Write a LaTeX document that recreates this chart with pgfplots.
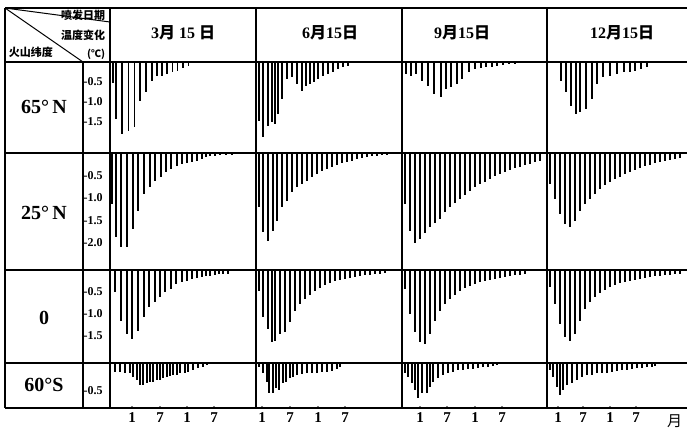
\documentclass[border=0pt]{standalone}
\usepackage{fontspec}
\setmainfont{Liberation Serif}
\newfontfamily\cjk{Noto Sans CJK SC}
\usepackage{pgfplots}
\pgfplotsset{compat=1.18}

\pgfplotsset{
  cell/.style={scale only axis, anchor=north west, axis lines=none,
    xmin=0, ymax=0, clip=false},
  bottomcell/.style={scale only axis, anchor=north west,
    axis x line*=bottom, axis y line=none, xmin=0, ymax=0, clip=false,
    x axis line style={line width=1.3pt},
    xtick align=inside, major tick length=2pt,
    xtick style={line width=1.3pt},
    xticklabel style={font=\bfseries\fontsize{15}{15}\selectfont, yshift=-1pt}},
  scalecol/.style={scale only axis, anchor=north west, width=27pt,
    xmin=0, xmax=1, ymax=0, axis x line=none, axis y line*=left,
    y axis line style={draw=none}, major tick length=0pt,
    yticklabel style={anchor=west, inner sep=0pt, xshift=0.5pt,
      font=\bfseries\fontsize{12}{12}\selectfont},
    /pgf/number format/.cd, fixed, fixed zerofill, precision=1,
    assume math mode=true},
  bars/.style={ycomb, black, line width=1.6pt, mark=none},
}

\begin{document}
\begin{tikzpicture}
\useasboundingbox (0pt,0pt) rectangle (687pt,-431pt);

% ---- row 1: 65N (top 62, h 91)
\begin{axis}[scalecol, at={(83pt,-62pt)}, height=91pt, ymin=-2.275, ytick={-0.5,-1,-1.5}]
\addplot[draw=none] coordinates {(0,0)};
\end{axis}
\begin{axis}[cell, at={(110pt,-62pt)}, width=146pt, height=91pt, xmax=146, ymin=-2.275]
\addplot[bars] coordinates {(2.7,-0.52) (6,-1.43) (11.7,-1.8) (18.3,-1.73) (24.3,-1.63) (30,-0.98) (35.7,-0.75) (41.7,-0.48) (46.7,-0.35) (51.7,-0.35) (56.7,-0.3) (62.3,-0.25) (67.3,-0.22) (72.7,-0.15) (78.3,-0.1)};
\end{axis}
\begin{axis}[cell, at={(256pt,-62pt)}, width=146pt, height=91pt, xmax=146, ymin=-2.275]
\addplot[bars] coordinates {(3,-1.48) (7,-1.88) (12,-1.6) (16,-1.5) (19,-1.55) (22,-1.3) (26,-0.93) (31,-0.43) (36,-0.38) (41,-0.55) (46,-0.73) (50,-0.6) (54,-0.55) (58,-0.5) (62,-0.43) (67,-0.35) (72,-0.3) (77,-0.25) (82,-0.18) (87,-0.13) (92,-0.1)};
\end{axis}
\begin{axis}[cell, at={(402pt,-62pt)}, width=145pt, height=91pt, xmax=145, ymin=-2.275]
\addplot[bars] coordinates {(4,-0.3) (9,-0.35) (14,-0.3) (20,-0.48) (26,-0.6) (32,-0.8) (39,-0.88) (44,-0.68) (49,-0.63) (55,-0.55) (60,-0.43) (67,-0.25) (73,-0.18) (79,-0.15) (84,-0.13) (90,-0.12) (95,-0.1) (101,-0.08) (107,-0.06) (113,-0.05)};
\end{axis}
\begin{axis}[cell, at={(547pt,-62pt)}, width=140pt, height=91pt, xmax=140, ymin=-2.275]
\addplot[bars] coordinates {(14,-0.48) (19,-0.75) (24,-1.1) (29,-1.3) (33,-1.25) (39,-1.18) (45,-0.93) (50,-0.55) (56,-0.38) (63,-0.35) (70,-0.3) (77,-0.25) (83,-0.25) (88,-0.22) (94,-0.18) (100,-0.13)};
\end{axis}

% ---- row 2: 25N (top 153, h 117)
\begin{axis}[scalecol, at={(83pt,-153pt)}, height=117pt, ymin=-2.6, ytick={-0.5,-1,-1.5,-2}]
\addplot[draw=none] coordinates {(0,0)};
\end{axis}
\begin{axis}[cell, at={(110pt,-153pt)}, width=146pt, height=117pt, xmax=146, ymin=-2.6]
\addplot[bars] coordinates {(2,-1.13) (6,-1.87) (11,-2.09) (17,-2.09) (23,-1.69) (28,-1.29) (34,-0.91) (40,-0.76) (45,-0.62) (51,-0.53) (56,-0.42) (61,-0.36) (67,-0.29) (72,-0.24) (77,-0.22) (82,-0.2) (87,-0.18) (92,-0.13) (96,-0.09) (100,-0.07) (105,-0.07) (110,-0.05) (116,-0.05) (122,-0.04)};
\end{axis}
\begin{axis}[cell, at={(256pt,-153pt)}, width=146pt, height=117pt, xmax=146, ymin=-2.6]
\addplot[bars] coordinates {(3,-1.2) (7,-1.76) (12,-1.96) (17,-1.73) (21,-1.51) (26,-1.2) (31,-1.07) (36,-0.87) (41,-0.76) (46,-0.69) (51,-0.62) (56,-0.53) (61,-0.47) (66,-0.4) (71,-0.36) (76,-0.31) (81,-0.27) (86,-0.22) (91,-0.2) (96,-0.18) (101,-0.13) (106,-0.11) (111,-0.09) (116,-0.07) (121,-0.07) (126,-0.04) (131,-0.04)};
\end{axis}
\begin{axis}[cell, at={(402pt,-153pt)}, width=145pt, height=117pt, xmax=145, ymin=-2.6]
\addplot[bars] coordinates {(3,-1.13) (8,-1.73) (13,-2.0) (18,-1.91) (23,-1.78) (28,-1.64) (33,-1.56) (38,-1.47) (43,-1.31) (48,-1.2) (53,-1.11) (58,-1.02) (63,-0.93) (68,-0.84) (73,-0.76) (78,-0.69) (83,-0.64) (88,-0.58) (93,-0.51) (98,-0.47) (103,-0.42) (108,-0.38) (113,-0.33) (118,-0.31) (123,-0.27) (128,-0.24) (133,-0.2) (138,-0.18)};
\end{axis}
\begin{axis}[cell, at={(547pt,-153pt)}, width=140pt, height=117pt, xmax=140, ymin=-2.6]
\addplot[bars] coordinates {(3,-0.69) (8,-1.02) (13,-1.36) (18,-1.58) (23,-1.64) (28,-1.51) (33,-1.29) (38,-1.13) (43,-1.02) (48,-0.91) (53,-0.8) (58,-0.71) (63,-0.64) (68,-0.58) (73,-0.53) (78,-0.47) (83,-0.42) (88,-0.38) (93,-0.33) (98,-0.29) (103,-0.27) (108,-0.22) (113,-0.2) (118,-0.18) (123,-0.16) (128,-0.13) (133,-0.11)};
\end{axis}

% ---- row 3: 0 (top 270, h 93)
\begin{axis}[scalecol, at={(83pt,-270pt)}, height=93pt, ymin=-2.114, ytick={-0.5,-1,-1.5}]
\addplot[draw=none] coordinates {(0,0)};
\end{axis}
\begin{axis}[cell, at={(110pt,-270pt)}, width=146pt, height=93pt, xmax=146, ymin=-2.114]
\addplot[bars] coordinates {(5,-0.5) (11,-1.16) (17,-1.45) (22,-1.57) (28,-1.39) (34,-1.07) (39,-0.84) (45,-0.73) (50,-0.61) (55,-0.5) (61,-0.43) (66,-0.32) (72,-0.27) (77,-0.25) (82,-0.2) (87,-0.18) (92,-0.16) (96,-0.14) (100,-0.14) (105,-0.11) (109,-0.09) (113,-0.09) (118,-0.09)};
\end{axis}
\begin{axis}[cell, at={(256pt,-270pt)}, width=146pt, height=93pt, xmax=146, ymin=-2.114]
\addplot[bars] coordinates {(3,-0.48) (7,-1.07) (12,-1.34) (16,-1.64) (19,-1.61) (24,-1.45) (29,-1.41) (34,-1.18) (39,-0.93) (44,-0.77) (49,-0.66) (54,-0.57) (59,-0.48) (64,-0.41) (69,-0.34) (74,-0.3) (79,-0.25) (84,-0.23) (89,-0.2) (94,-0.18) (99,-0.16) (104,-0.14) (109,-0.11) (114,-0.11) (119,-0.09) (124,-0.09) (129,-0.07)};
\end{axis}
\begin{axis}[cell, at={(402pt,-270pt)}, width=145pt, height=93pt, xmax=145, ymin=-2.114]
\addplot[bars] coordinates {(3,-0.43) (8,-1.0) (13,-1.41) (18,-1.64) (23,-1.68) (28,-1.45) (33,-1.16) (38,-0.93) (43,-0.77) (48,-0.66) (53,-0.57) (58,-0.48) (63,-0.41) (68,-0.36) (73,-0.32) (78,-0.27) (83,-0.25) (88,-0.23) (93,-0.2) (98,-0.18) (103,-0.16) (108,-0.14) (113,-0.11) (118,-0.11) (123,-0.09)};
\end{axis}
\begin{axis}[cell, at={(547pt,-270pt)}, width=140pt, height=93pt, xmax=140, ymin=-2.114]
\addplot[bars] coordinates {(3,-0.39) (8,-0.77) (13,-1.23) (18,-1.52) (23,-1.61) (28,-1.45) (33,-1.16) (38,-0.89) (43,-0.73) (48,-0.61) (53,-0.52) (58,-0.45) (63,-0.39) (68,-0.34) (73,-0.3) (78,-0.27) (83,-0.25) (88,-0.23) (93,-0.2) (98,-0.18) (103,-0.16) (108,-0.14) (113,-0.14) (118,-0.11) (123,-0.11) (128,-0.09) (133,-0.09)};
\end{axis}

% ---- row 4: 60S (top 363, h 45)
\begin{axis}[scalecol, at={(83pt,-363pt)}, height=45pt, ymin=-0.818, ytick={-0.5}]
\addplot[draw=none] coordinates {(0,0)};
\end{axis}
\begin{axis}[bottomcell, at={(110pt,-363pt)}, width=146pt, height=45pt, xmax=146, ymin=-0.818,
  xtick={22,50,77,104}, xticklabels={1,7,1,7}]
\addplot[bars] coordinates {(5,-0.16) (10,-0.16) (15,-0.18) (20,-0.18) (23,-0.25) (27,-0.31) (30,-0.4) (33,-0.4) (37,-0.36) (40,-0.35) (43,-0.35) (47,-0.31) (50,-0.31) (53,-0.27) (57,-0.25) (60,-0.24) (63,-0.22) (67,-0.22) (70,-0.18) (75,-0.18) (78,-0.16) (83,-0.13) (88,-0.09) (93,-0.07) (97,-0.04)};
\end{axis}
\begin{axis}[bottomcell, at={(256pt,-363pt)}, width=146pt, height=45pt, xmax=146, ymin=-0.818,
  xtick={6,34,62,89}, xticklabels={1,7,1,7}]
\addplot[bars] coordinates {(3,-0.07) (7,-0.18) (11,-0.35) (13,-0.55) (17,-0.55) (20,-0.45) (23,-0.49) (27,-0.36) (30,-0.35) (34,-0.27) (37,-0.25) (41,-0.22) (46,-0.2) (51,-0.18) (56,-0.18) (61,-0.18) (66,-0.16) (71,-0.16) (76,-0.15) (81,-0.11) (84,-0.07)};
\end{axis}
\begin{axis}[bottomcell, at={(402pt,-363pt)}, width=145pt, height=45pt, xmax=145, ymin=-0.818,
  xtick={18,45,73,100}, xticklabels={1,7,1,7}]
\addplot[bars] coordinates {(3,-0.18) (6,-0.25) (10,-0.36) (13,-0.49) (16,-0.64) (20,-0.55) (25,-0.55) (28,-0.44) (31,-0.35) (36,-0.27) (41,-0.22) (46,-0.18) (51,-0.16) (56,-0.13) (61,-0.13) (66,-0.11) (71,-0.11) (76,-0.09) (81,-0.07) (86,-0.07) (91,-0.05) (95,-0.04)};
\end{axis}
\begin{axis}[bottomcell, at={(547pt,-363pt)}, width=140pt, height=45pt, xmax=140, ymin=-0.818,
  xtick={11,36,63,89}, xticklabels={1,7,1,7}]
\addplot[bars] coordinates {(3,-0.13) (6,-0.25) (10,-0.44) (13,-0.58) (16,-0.49) (20,-0.4) (25,-0.36) (30,-0.31) (35,-0.25) (40,-0.22) (45,-0.22) (50,-0.18) (55,-0.18) (60,-0.18) (65,-0.16) (70,-0.15) (75,-0.13) (80,-0.13) (85,-0.11) (90,-0.09) (95,-0.09) (100,-0.07) (105,-0.07) (108,-0.05)};
\end{axis}

% ---- table rules
\draw[line width=1.6pt] (5pt,-8pt) -- (687pt,-8pt);
\foreach \yy in {62,153,270,363} \draw[line width=1.3pt] (5pt,-\yy pt) -- (687pt,-\yy pt);
\draw[line width=1.3pt] (5pt,-408pt) -- (687pt,-408pt);
\foreach \xx in {5,110,256,402,547} \draw[line width=1.3pt] (\xx pt,-8pt) -- (\xx pt,-408pt);
\draw[line width=1.3pt] (83pt,-62pt) -- (83pt,-408pt);
\draw[line width=1pt] (5pt,-8pt) -- (110pt,-22pt);
\draw[line width=1pt] (5pt,-8pt) -- (83pt,-62pt);

% ---- header texts
\node[font=\cjk\bfseries\fontsize{11}{11}\selectfont] at (83pt,-15pt) {喷发日期};
\node[font=\cjk\bfseries\fontsize{11}{11}\selectfont] at (83pt,-35pt) {温度变化};
\node[font=\cjk\bfseries\fontsize{10}{10}\selectfont] at (96pt,-54pt) {(℃)};
\node[font=\cjk\bfseries\fontsize{11}{11}\selectfont] at (31pt,-52pt) {火山纬度};
\node[font=\bfseries\fontsize{16}{16}\selectfont] at (183pt,-33pt) {3{\cjk 月} 15 {\cjk 日}};
\node[font=\bfseries\fontsize{16}{16}\selectfont] at (330pt,-33pt) {6{\cjk 月}15{\cjk 日}};
\node[font=\bfseries\fontsize{16}{16}\selectfont] at (462pt,-33pt) {9{\cjk 月}15{\cjk 日}};
\node[font=\bfseries\fontsize{16}{16}\selectfont] at (622pt,-33pt) {12{\cjk 月}15{\cjk 日}};

% ---- row labels
\node[font=\bfseries\fontsize{20}{20}\selectfont] at (44pt,-107pt) {65°\,N};
\node[font=\bfseries\fontsize{20}{20}\selectfont] at (44pt,-213pt) {25°\,N};
\node[font=\bfseries\fontsize{20}{20}\selectfont] at (44pt,-318pt) {0};
\node[font=\bfseries\fontsize{20}{20}\selectfont] at (44pt,-385pt) {60°S};
\node[font=\cjk\fontsize{15}{15}\selectfont, anchor=west, inner sep=0pt] at (667pt,-421pt) {月};
\end{tikzpicture}
\end{document}
